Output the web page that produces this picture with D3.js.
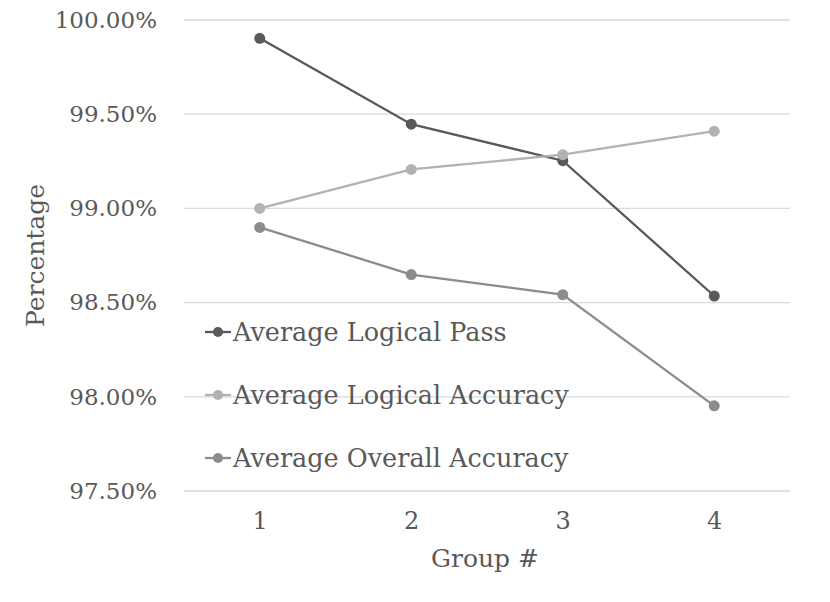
<!DOCTYPE html>
<html>
<head>
<meta charset="utf-8">
<script src="https://cdn.jsdelivr.net/npm/d3@7"></script>
<style>
  body { margin: 0; background: #fff; }
  text { font-family: "DejaVu Serif", serif; fill: #595959; }
</style>
</head>
<body>
<svg width="830" height="602"></svg>
<script>
const groups = [1, 2, 3, 4];
const logicalPass = [99.903, 99.447, 99.253, 98.535];
const logicalAccuracy = [99.0, 99.207, 99.285, 99.41];
const overallAccuracy = [98.899, 98.649, 98.542, 97.952];
const yTicks = [97.5, 98.0, 98.5, 99.0, 99.5, 100.0];
const seriesNames = ["Average Logical Pass", "Average Logical Accuracy", "Average Overall Accuracy"];
const seriesColors = ["#595959", "#b2b2b2", "#8c8c8c"];

const series = [logicalPass, logicalAccuracy, overallAccuracy].map((vals, i) => ({
  name: seriesNames[i],
  color: seriesColors[i],
  values: vals.map((v, j) => ({ x: groups[j], y: v }))
}));

const svg = d3.select("svg");
const margin = { top: 20, right: 40, bottom: 111, left: 184 };
const width = svg.attr("width") - margin.left - margin.right;
const height = svg.attr("height") - margin.top - margin.bottom;
const g = svg.append("g").attr("transform", `translate(${margin.left},${margin.top})`);

const x = d3.scalePoint().domain(groups).range([0, width]).padding(0.5);
const y = d3.scaleLinear().domain([97.5, 100]).range([height, 0]);

// gridlines
g.append("g")
  .selectAll("line")
  .data(yTicks)
  .join("line")
  .attr("x1", 0)
  .attr("x2", width)
  .attr("y1", d => y(d))
  .attr("y2", d => y(d))
  .attr("stroke", "#d9d9d9")
  .attr("stroke-width", 1.3);

// y axis labels
const yAxis = g.append("g")
  .call(d3.axisLeft(y).tickValues(yTicks).tickSize(0).tickPadding(27).tickFormat(d => d.toFixed(2) + "%"));
yAxis.select(".domain").remove();
yAxis.selectAll("text").style("font-size", "23px").attr("fill", "#595959").attr("font-family", "DejaVu Serif");

// x axis labels
const xAxis = g.append("g")
  .attr("transform", `translate(0,${height})`)
  .call(d3.axisBottom(x).tickSize(0).tickPadding(21));
xAxis.select(".domain").remove();
xAxis.selectAll("text").style("font-size", "24px").attr("fill", "#595959").attr("font-family", "DejaVu Serif");

// axis titles
svg.append("text")
  .attr("x", margin.left + width / 2 - 2)
  .attr("y", 567)
  .attr("text-anchor", "middle")
  .style("font-size", "25px")
  .text("Group #");

svg.append("text")
  .attr("transform", `translate(44,${margin.top + height / 2}) rotate(-90)`)
  .attr("text-anchor", "middle")
  .style("font-size", "25px")
  .text("Percentage");

// lines
const line = d3.line()
  .x(d => x(d.x))
  .y(d => y(d.y));

const sg = g.selectAll(".series")
  .data(series)
  .join("g")
  .attr("class", "series");

sg.append("path")
  .attr("d", d => line(d.values))
  .attr("fill", "none")
  .attr("stroke", d => d.color)
  .attr("stroke-width", 2.3);

sg.selectAll("circle")
  .data(d => d.values.map(v => ({ ...v, color: d.color })))
  .join("circle")
  .attr("cx", d => x(d.x))
  .attr("cy", d => y(d.y))
  .attr("r", 5.5)
  .attr("fill", d => d.color);

// legend
const legend = svg.append("g").attr("transform", "translate(205,332)");
const item = legend.selectAll("g")
  .data(series)
  .join("g")
  .attr("transform", (d, i) => `translate(0,${i * 63})`);

item.append("line")
  .attr("x1", 0)
  .attr("x2", 26)
  .attr("stroke", d => d.color)
  .attr("stroke-width", 2.3);
item.append("circle")
  .attr("cx", 13)
  .attr("r", 5)
  .attr("fill", d => d.color);
item.append("text")
  .attr("x", 28)
  .attr("dy", "0.35em")
  .style("font-size", "25.5px")
  .text(d => d.name);
</script>
</body>
</html>
